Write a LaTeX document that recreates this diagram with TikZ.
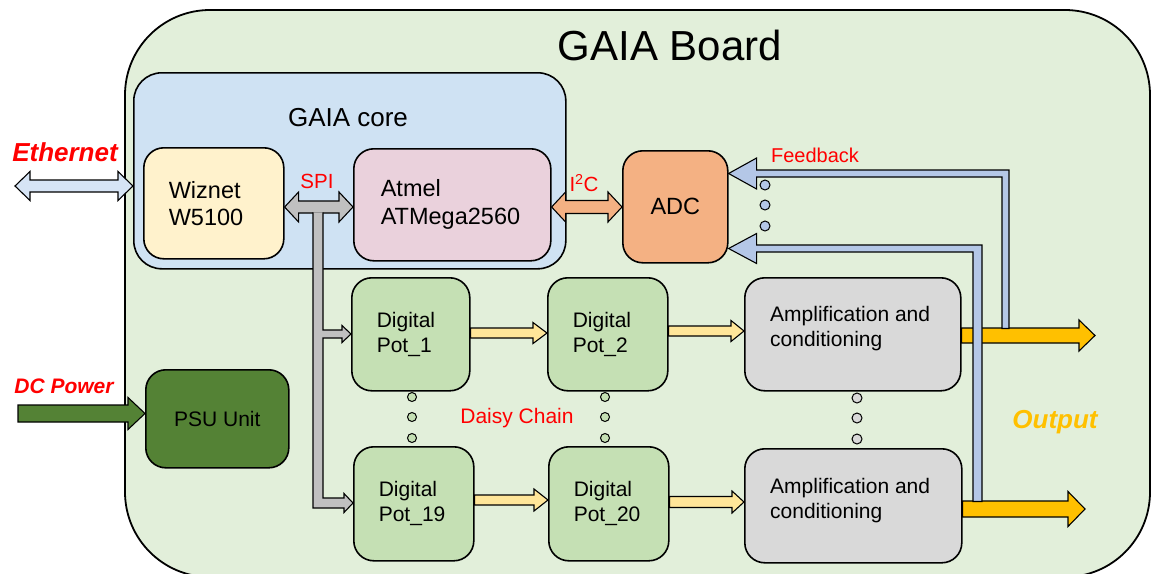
\documentclass[tikz,border=0pt]{standalone}
\usepackage{fontspec}
\setmainfont{Liberation Sans}
\usetikzlibrary{calc}
\definecolor{boardc}{HTML}{E2EFDA}
\definecolor{corec}{HTML}{CFE2F3}
\definecolor{wizc}{HTML}{FFF2CC}
\definecolor{atmc}{HTML}{EAD1DC}
\definecolor{adcc}{HTML}{F4B183}
\definecolor{potc}{HTML}{C5E0B4}
\definecolor{ampc}{HTML}{D9D9D9}
\definecolor{psuc}{HTML}{548235}
\definecolor{fbc}{HTML}{B4C7E7}
\definecolor{chainc}{HTML}{FFE699}
\definecolor{outc}{HTML}{FFC000}
\definecolor{spic}{HTML}{C0C0C0}
\definecolor{ethc}{HTML}{D6E4F5}
\definecolor{redc}{HTML}{FF0000}
\newcommand\fsz[2]{\fontsize{#1}{#2}\selectfont}
% single right arrow: style, from, to, shaft half, head half, head length
\newcommand\rarrow[6]{\path[#1] let \p1=#2, \p2=#3 in (\x1,\y1+#4) -- (\x2-#6,\y1+#4) -- (\x2-#6,\y1+#5) -- (\x2,\y1) -- (\x2-#6,\y1-#5) -- (\x2-#6,\y1-#4) -- (\x1,\y1-#4) -- cycle;}
% double arrow
\newcommand\darrow[6]{\path[#1] let \p1=#2, \p2=#3 in (\x1,\y1) -- (\x1+#6,\y1+#5) -- (\x1+#6,\y1+#4) -- (\x2-#6,\y1+#4) -- (\x2-#6,\y1+#5) -- (\x2,\y1) -- (\x2-#6,\y1-#5) -- (\x2-#6,\y1-#4) -- (\x1+#6,\y1-#4) -- (\x1+#6,\y1-#5) -- cycle;}
\tikzset{
  box/.style={draw, line width=1.6pt, rounded corners=20pt, align=left, anchor=north west, inner ysep=0pt},
  arr/.style={draw, line width=1.1pt, line join=miter},
  dot/.style={circle, draw, line width=1pt, minimum size=10pt, inner sep=0pt},
  lbl/.style={inner sep=0pt, text=redc},
  boxtext/.style={anchor=west, align=left, inner sep=0pt, font={\fsz{21}{25}}},
}
\begin{document}
\begin{tikzpicture}[x=1pt,y=-1pt]
\useasboundingbox (0,0) rectangle (1151,573);
% board
\draw[line width=1.8pt, fill=boardc, rounded corners=85pt] (125,10) rectangle (1150,577);
\node[font={\fsz{42}{48}}, inner sep=0pt] (title) at (670,45) {GAIA Board};
% core
\node[draw, line width=1.6pt, fill=corec, rounded corners=28pt, anchor=north west, minimum width=432pt, minimum height=196pt, inner sep=0pt] (core) at (133,72) {};
\node[font={\fsz{26}{30}}, inner sep=0pt] (coret) at (348,118) {GAIA core};
% boxes
\node[box, fill=wizc, minimum height=111pt, text width=90pt, inner xsep=25pt, font={\fsz{23.5}{27}}] (wiz) at (143,147) {Wiznet\\W5100};
\node[box, fill=atmc, minimum height=112pt, text width=143pt, inner xsep=27pt, font={\fsz{23.5}{28}}] (atm) at (353,148) {Atmel\\ATMega2560};
\node[box, fill=adcc, minimum height=112pt, minimum width=105pt, inner xsep=0pt, font={\fsz{23.5}{28}}] (adc) at (622,150) {ADC};
\node[box, fill=potc, minimum height=113pt, text width=68pt, inner xsep=25pt, font={\fsz{21}{25}}] (pot1) at (351,277) {Digital\\Pot\_1};
\node[box, fill=potc, minimum height=113pt, text width=70pt, inner xsep=25pt, font={\fsz{21}{25}}] (pot2) at (547,277) {Digital\\Pot\_2};
\node[box, fill=potc, minimum height=114pt, text width=70pt, inner xsep=25pt, font={\fsz{21}{25}}] (pot19) at (353,446) {Digital\\Pot\_19};
\node[box, fill=potc, minimum height=114pt, text width=70pt, inner xsep=25pt, font={\fsz{21}{25}}] (pot20) at (548,446) {Digital\\Pot\_20};
\node[box, fill=ampc, minimum height=113pt, minimum width=216pt, inner xsep=0pt] (amp1) at (744,277) {};
\node[boxtext] (amp1t) at ($(amp1.west)+(26,-6)$) {Amplification and\\conditioning};
\node[box, fill=ampc, minimum height=114pt, minimum width=217pt, inner xsep=0pt] (amp2) at (744,448) {};
\node[boxtext] (amp2t) at ($(amp2.west)+(26,-5.5)$) {Amplification and\\conditioning};
\node[box, fill=psuc, minimum height=98pt, minimum width=143pt, inner xsep=0pt, font={\fsz{21}{25}}] (psu) at (145,369) {PSU Unit};
% helper coordinates
\coordinate (ethL) at (15,186);
\coordinate (dcL) at (18,413.5);
\coordinate (spiy) at (0,207);
\coordinate (c1y) at (0,333);
\coordinate (c2y) at (0,331);
\coordinate (c3y) at (0,500);
\coordinate (c4y) at (0,502);
\coordinate (out1) at (1095,335.5);
\coordinate (out2) at (1085,509);
\coordinate (busTop) at (318,212.4);
\coordinate (b1y) at (0,334);
\coordinate (b2y) at (0,503);
\coordinate (fb1b) at (1005.5,328.5);
\coordinate (fb2b) at (977.5,501.5);
\coordinate (fb1y) at (0,173.5);
\coordinate (fb2y) at (0,248.5);
% external arrows
\darrow{arr, fill=ethc}{(ethL)}{(core.west |- ethL)}{6pt}{14.5pt}{15pt}
\rarrow{arr, fill=psuc}{(dcL)}{(psu.west |- dcL)}{8.5pt}{16pt}{17pt}
% SPI / I2C
\darrow{arr, fill=spic}{(wiz.east |- spiy)}{(atm.west |- spiy)}{6pt}{15pt}{14pt}
\darrow{arr, fill=adcc}{(atm.east |- spiy)}{(adc.west |- spiy)}{6.5pt}{15pt}{14pt}
% SPI bus
\path[fill=spic] let \p1=(busTop), \p2=(pot1.west |- b1y), \p3=(pot19.west |- b2y) in
  (\x1-5pt,\y1) -- (\x1-5pt,\y3-5pt) -- (\x3-9pt,\y3-5pt) -- (\x3-9pt,\y3-9.5pt) -- (\x3,\y3) -- (\x3-9pt,\y3+9.5pt) -- (\x3-9pt,\y3+5pt) -- (\x1+5pt,\y3+5pt) -- (\x1+5pt,\y2-4pt) -- (\x2-9pt,\y2-4pt) -- (\x2-9pt,\y2-8.5pt) -- (\x2,\y2) -- (\x2-9pt,\y2+8.5pt) -- (\x2-9pt,\y2+4pt) -- (\x1+5pt,\y2+4pt) -- (\x1+5pt,\y1) -- cycle;
\path[arr] let \p1=(busTop), \p2=(pot1.west |- b1y), \p3=(pot19.west |- b2y) in
  (\x1-5pt,\y1) -- (\x1-5pt,\y3-5pt) -- (\x3-9pt,\y3-5pt) -- (\x3-9pt,\y3-9.5pt) -- (\x3,\y3) -- (\x3-9pt,\y3+9.5pt) -- (\x3-9pt,\y3+5pt) -- (\x1+5pt,\y3+5pt) -- (\x1+5pt,\y2-4pt) -- (\x2-9pt,\y2-4pt) -- (\x2-9pt,\y2-8.5pt) -- (\x2,\y2) -- (\x2-9pt,\y2+8.5pt) -- (\x2-9pt,\y2+4pt) -- (\x1+5pt,\y2+4pt) -- (\x1+5pt,\y1);
% daisy chain arrows
\rarrow{arr, fill=chainc}{(pot1.east |- c1y)}{(pot2.west |- c1y)}{5pt}{10.5pt}{14pt}
\rarrow{arr, fill=chainc}{(pot2.east |- c2y)}{(amp1.west |- c2y)}{5pt}{10.5pt}{13pt}
\rarrow{arr, fill=chainc}{(pot19.east |- c3y)}{(pot20.west |- c3y)}{5pt}{11pt}{14pt}
\rarrow{arr, fill=chainc}{(pot20.east |- c4y)}{(amp2.west |- c4y)}{5.5pt}{11pt}{12pt}
% outputs
\rarrow{arr, fill=outc}{(amp1.east |- out1)}{(out1)}{7.5pt}{15.5pt}{16pt}
\rarrow{arr, fill=outc}{(amp2.east |- out2)}{(out2)}{8pt}{17.5pt}{17pt}
% feedback
\path[arr, fill=fbc] let \p1=(adc.east |- fb1y), \p2=(fb1b) in
  (\x2-3.5pt,\y2) -- (\x2-3.5pt,\y1-3.5pt) -- (\x1+28pt,\y1-3.5pt) -- (\x1+28pt,\y1-15.5pt) -- (\x1,\y1) -- (\x1+28pt,\y1+15.5pt) -- (\x1+28pt,\y1+3.5pt) -- (\x2+3.5pt,\y1+3.5pt) -- (\x2+3.5pt,\y2) -- cycle;
\path[arr, fill=fbc] let \p1=(adc.east |- fb2y), \p2=(fb2b) in
  (\x2-4.5pt,\y2) -- (\x2-4.5pt,\y1-3.5pt) -- (\x1+28pt,\y1-3.5pt) -- (\x1+28pt,\y1-15pt) -- (\x1,\y1) -- (\x1+28pt,\y1+15pt) -- (\x1+28pt,\y1+3.5pt) -- (\x2+4.5pt,\y1+3.5pt) -- (\x2+4.5pt,\y2) -- cycle;
% dots
\foreach \n/\yy in {a/185,b/205,c/226} \node[dot, fill=fbc] (fd\n) at (765,\yy) {};
\foreach \n/\yy in {a/397,b/417,c/438} {
  \node[dot, fill=potc, minimum size=9pt] (pd\n) at (412,\yy) {};
  \node[dot, fill=potc, minimum size=9pt] (qd\n) at (605,\yy) {};
}
\foreach \n/\yy in {a/398,b/418,c/439} \node[dot, fill=ampc] (ad\n) at (857,\yy) {};
% labels
\node[lbl, font={\fsz{20.5}{24}}] (spil) at (317,181) {SPI};
\node[lbl, font={\fsz{20.5}{24}}] (i2cl) at (584,183) {I\textsuperscript{2}C};
\node[lbl, font={\fsz{20}{24}}] (fbl) at (815,155) {Feedback};
\node[lbl, font={\fsz{21}{25}}] (dcl) at (517,418) {Daisy Chain};
\node[lbl, font={\fsz{26}{30}\bfseries\itshape}] (ethl) at (65,152) {Ethernet};
\node[lbl, font={\fsz{21}{25}\bfseries\itshape}] (dcpl) at (64,386) {DC Power};
\node[inner sep=0pt, text=outc, font={\fsz{26}{30}\bfseries\itshape}] (outl) at (1055,422) {Output};
\end{tikzpicture}
\end{document}
